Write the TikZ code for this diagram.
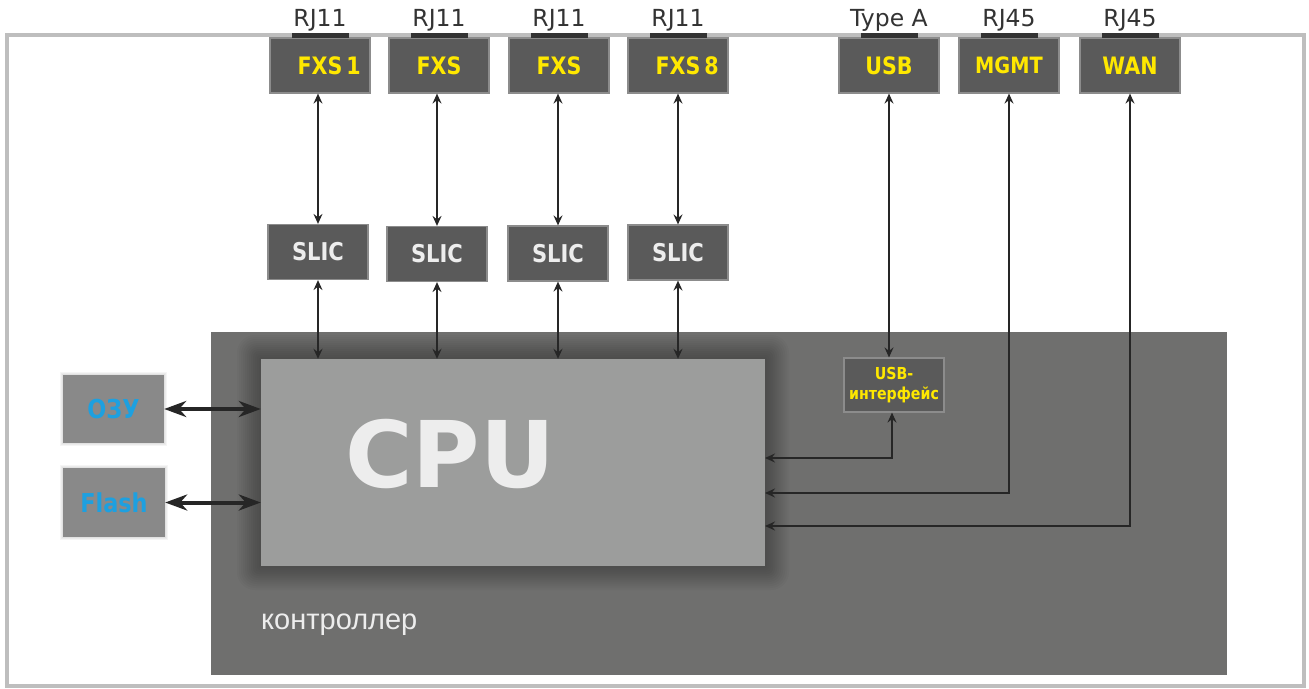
\documentclass[tikz,border=0pt]{standalone}
\usepackage{fontspec}
\setmainfont{DejaVu Sans}
\newfontfamily\lblfont{DejaVu Sans}[FakeStretch=0.86]
\newfontfamily\ctrlfont{Liberation Sans}
\usetikzlibrary{arrows.meta}
\definecolor{framec}{HTML}{BEBEBE}
\definecolor{boxfill}{HTML}{5A5A5A}
\definecolor{boxedge}{HTML}{8C8C8C}
\definecolor{ctrlfill}{HTML}{6F6F6E}
\definecolor{cpufill}{HTML}{9C9D9C}
\definecolor{memfill}{HTML}{898989}
\definecolor{ylw}{HTML}{FFE800}
\definecolor{bluet}{HTML}{1DA0E0}
\definecolor{arrowc}{HTML}{262626}
\definecolor{tabc}{HTML}{333333}
\definecolor{lightt}{HTML}{EDEDED}
\begin{document}
\begin{tikzpicture}[x=1pt,y=-1pt,
  port/.style={draw=boxedge, fill=boxfill, line width=1.2pt, minimum width=100pt, minimum height=55pt, inner sep=0pt,
    font=\lblfont\bfseries\fontsize{24}{28}\selectfont, text=ylw},
  slicbox/.style={port, text=lightt, font=\lblfont\bfseries\fontsize{24.5}{28}\selectfont},
  tabbox/.style={fill=tabc, draw=none, minimum width=57pt, minimum height=5pt, inner sep=0pt},
  toplbl/.style={anchor=base, inner sep=0pt, font=\fontsize{23.5}{27}\selectfont, text=tabc},
  membox/.style={fill=memfill, draw=none, minimum width=101pt, minimum height=68pt, inner sep=0pt,
    font=\lblfont\bfseries\fontsize{26}{30}\selectfont, text=bluet},
  shadowlayer/.style={fill=black, opacity=0.025},
  thin/.style={draw=arrowc, line width=1.7pt,
    {Stealth[length=10pt,width=9pt,inset=3.5pt]}-{Stealth[length=10pt,width=9pt,inset=3.5pt]}},
  thick/.style={draw=arrowc, line width=4pt,
    {Stealth[length=22pt,width=16pt,inset=7pt]}-{Stealth[length=22pt,width=16pt,inset=7pt]}},
]
\useasboundingbox (0,0) rectangle (1309,688);
\fill[white] (0,0) rectangle (1309,688);
% outer frame
\draw[framec, line width=4pt] (7,35) rectangle (1304,686);
% controller
\node[fill=ctrlfill, draw=none, minimum width=1016pt, minimum height=343pt, inner sep=0pt] (ctrl) at (719,503.5) {};
\node[anchor=base west, inner sep=0pt, text=lightt, font=\ctrlfont\fontsize{29}{33}\selectfont] (ctrllbl) at (261,629) {контроллер};
% CPU shadow
\begin{scope}
\clip (211,332) rectangle (1227,675);
\foreach \i in {1,...,12}
  \fill[shadowlayer, rounded corners=1.5*\i pt] (261-2*\i,359-2*\i) rectangle (765+2*\i,566+2*\i);
\end{scope}
% CPU
\node[fill=cpufill, draw=none, minimum width=504pt, minimum height=207pt, inner sep=0pt] (cpu) at (513,462.5) {};
\node[anchor=base, inner sep=0pt, text=lightt, font=\bfseries\fontsize{92}{100}\selectfont] (cputxt) at (450,487) {CPU};
% ports
\node[port] (fxs1) at (320,65.5) {FXS\rlap{\,1}};
\node[port] (fxs2) at (439,65.5) {FXS};
\node[port] (fxs3) at (559,65.5) {FXS};
\node[port] (fxs8) at (678,65.5) {FXS\rlap{\,8}};
\node[port] (usb) at (889,65.5) {USB};
\node[port, font=\lblfont\bfseries\fontsize{22.5}{26}\selectfont] (mgmt) at (1009,65.5) {MGMT};
\node[port] (wan) at (1130,65.5) {WAN};
% connector tabs
\node[tabbox] (t1) at (320,35.5) {};
\node[tabbox] (t2) at (439,35.5) {};
\node[tabbox] (t3) at (559,35.5) {};
\node[tabbox] (t4) at (678,35.5) {};
\node[tabbox] (t5) at (889,35.5) {};
\node[tabbox] (t6) at (1009,35.5) {};
\node[tabbox] (t7) at (1130,35.5) {};
% top labels
\node[toplbl] (l1) at (320,27) {RJ11};
\node[toplbl] (l2) at (439,27) {RJ11};
\node[toplbl] (l3) at (559,27) {RJ11};
\node[toplbl] (l4) at (678,27) {RJ11};
\node[toplbl] (l5) at (889,27) {Type A};
\node[toplbl] (l6) at (1009,27) {RJ45};
\node[toplbl] (l7) at (1130,27) {RJ45};
% SLIC
\node[slicbox] (s1) at (318,252) {SLIC};
\node[slicbox] (s2) at (437,254) {SLIC};
\node[slicbox] (s3) at (558,253.5) {SLIC};
\node[slicbox] (s4) at (678,252.5) {SLIC};
% USB interface
\node[port, minimum height=54pt, align=center, font=\lblfont\bfseries\fontsize{16.5}{20}\selectfont] (usbif) at (894,385) {USB-\\интерфейс};
% memory glow
\foreach \i in {1,2,3}{
  \fill[black, opacity=0.04] (63-\i,375-\i) rectangle (164+\i,443+\i);
  \fill[black, opacity=0.04] (63-\i,468-\i) rectangle (165+\i,537+\i);
}
% memory
\node[membox] (ozu) at (113.5,409) {ОЗУ};
\node[membox, minimum width=102pt, minimum height=69pt] (flash) at (114,502.5) {Flash};
% arrows ports - SLIC
\draw[thin] (fxs1.south -| s1.north) -- (s1.north);
\draw[thin] (fxs2.south -| s2.north) -- (s2.north);
\draw[thin] (fxs3.south -| s3.north) -- (s3.north);
\draw[thin] (fxs8.south) -- (s4.north);
% SLIC - CPU
\draw[thin] (s1.south) -- (s1.south |- cpu.north);
\draw[thin] (s2.south) -- (s2.south |- cpu.north);
\draw[thin] (s3.south) -- (s3.south |- cpu.north);
\draw[thin] (s4.south) -- (s4.south |- cpu.north);
% USB
\draw[thin] (usb.south) -- (usb.south |- usbif.north);
\coordinate (e1) at (765,458);
\coordinate (e2) at (765,493);
\coordinate (e3) at (765,526);
\draw[thin] (usbif.south -| 892,0) |- (e1);
\draw[thin] (mgmt.south) |- (e2);
\draw[thin] (wan.south) |- (e3);
% memory arrows
\draw[thick] (ozu.east) -- (ozu.east -| cpu.west);
\draw[thick] (flash.east) -- (flash.east -| cpu.west);
\end{tikzpicture}
\end{document}
